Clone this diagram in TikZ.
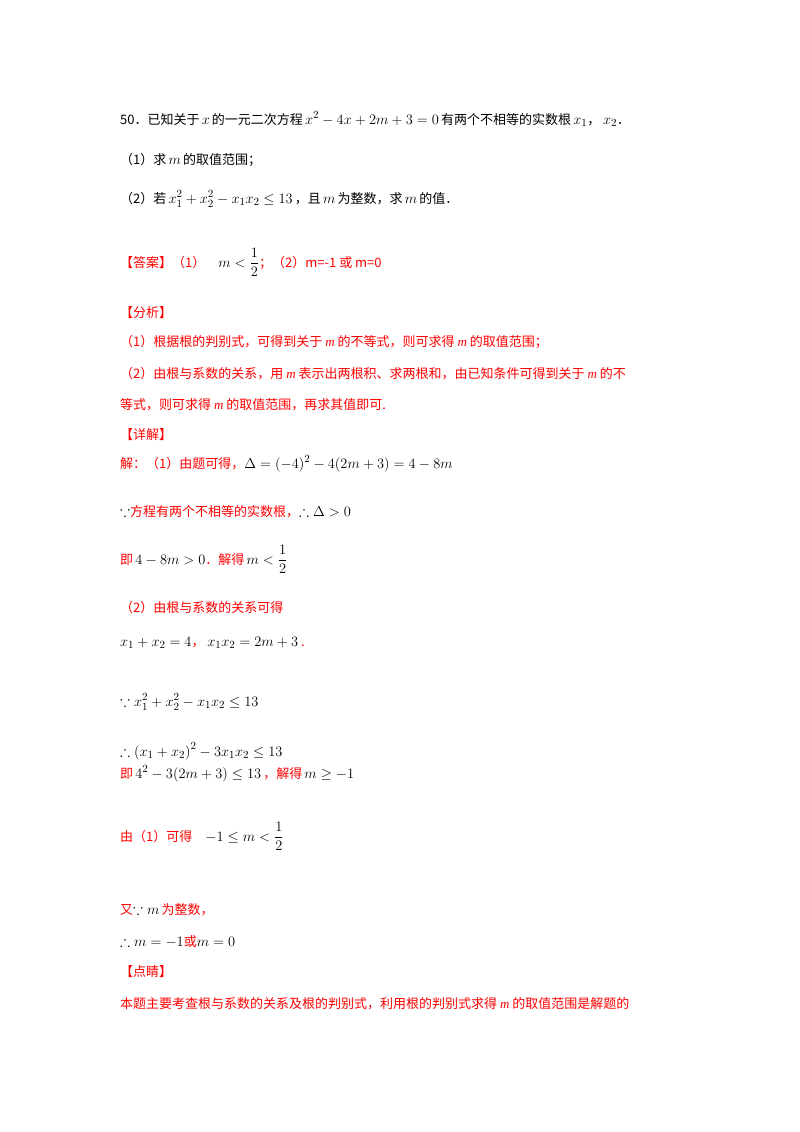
\documentclass[tikz,border=0pt]{standalone}
\usepackage{amsmath,amssymb}
\usepackage{fontspec}
\setmainfont{Liberation Serif}
\newfontfamily\cjk{Noto Sans CJK SC}
\definecolor{rd}{RGB}{255,0,0}
\newcommand{\Mth}[1]{{\color{black}\fontsize{15}{17}\selectfont\rmfamily$#1$}}
\newcommand{\im}{{\rmfamily\itshape m}}
\begin{document}
\begin{tikzpicture}[x=1pt,y=-1pt,
 ln/.style={anchor=base west,inner sep=0pt,font=\fontsize{13}{15}\selectfont\cjk},
 rl/.style={ln,text=rd}]
\useasboundingbox[fill=white] (0,0) rectangle (800,1132);
\node[ln] (l1) at (120,124) {50．已知关于\,\Mth{x}\,的一元二次方程\,\Mth{x^2-4x+2m+3=0}\,有两个不相等的实数根\,\Mth{x_1}， \Mth{x_2}．};
\node[ln] (l2) at (120,164) {（1）求\,\Mth{m}\,的取值范围；};
\node[ln] (l3) at (120,203) {（2）若\,\Mth{x_1^2+x_2^2-x_1x_2\le 13}\,，且\,\Mth{m}\,为整数，求\,\Mth{m}\,的值．};
\node[rl] (l4) at (120,267) {【答案】（1）\quad\Mth{m<\dfrac{1}{2}}；（2）m=-1 或 m=0};
\node[rl] (l5) at (120,317) {【分析】};
\node[rl] (l6) at (120,346) {（1）根据根的判别式，可得到关于 \im{} 的不等式，则可求得 \im{} 的取值范围；};
\node[rl] (l7) at (120,378) {（2）由根与系数的关系，用 \im{} 表示出两根积、求两根和，由已知条件可得到关于 \im{} 的不};
\node[rl] (l8) at (120,409) {等式，则可求得 \im{} 的取值范围，再求其值即可.};
\node[rl] (l9) at (120,439) {【详解】};
\node[rl] (l10) at (120,468) {解：（1）由题可得，\Mth{\Delta=(-4)^2-4(2m+3)=4-8m}};
\node[rl] (l11) at (120,516) {\Mth{\because}方程有两个不相等的实数根，\Mth{\therefore\Delta>0}};
\node[rl] (l12) at (120,564) {即\,\Mth{4-8m>0}．解得\,\Mth{m<\dfrac{1}{2}}};
\node[rl] (l13) at (120,612) {（2）由根与系数的关系可得};
\node[rl] (l14) at (120,646) {\Mth{x_1+x_2=4}， \Mth{x_1x_2=2m+3} .};
\node[ln] (l15) at (120,706) {\Mth{\because x_1^2+x_2^2-x_1x_2\le 13}};
\node[ln] (l16) at (120,756) {\Mth{\therefore \left(x_1+x_2\right)^2-3x_1x_2\le 13}};
\node[rl] (l17) at (120,778) {即\,\Mth{4^2-3(2m+3)\le 13}\,，解得\,\Mth{m\ge -1}};
\node[rl] (l18) at (120,841) {由（1）可得\quad\Mth{-1\le m<\dfrac{1}{2}}};
\node[rl] (l19) at (120,914) {又\Mth{\because m}\,为整数，};
\node[rl] (l20) at (120,946) {\Mth{\therefore m=-1}或\Mth{m=0}};
\node[rl] (l21) at (120,976) {【点睛】};
\node[rl] (l22) at (120,1008) {本题主要考查根与系数的关系及根的判别式，利用根的判别式求得 \im{} 的取值范围是解题的};
\end{tikzpicture}
\end{document}
